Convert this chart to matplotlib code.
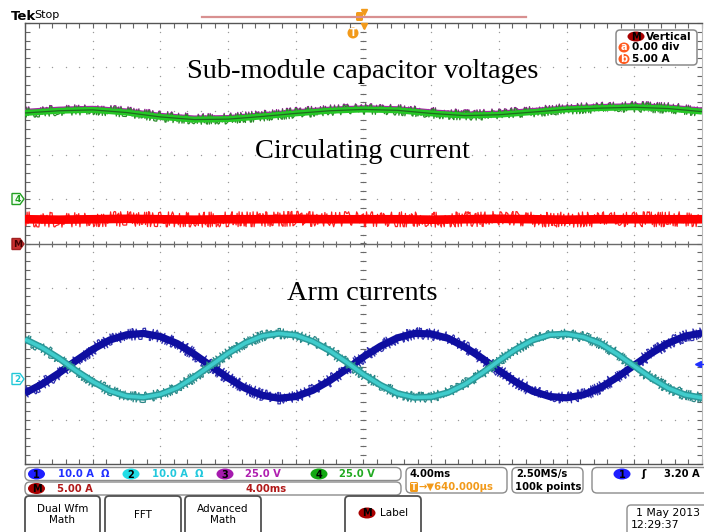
import matplotlib
matplotlib.use("Agg")
import matplotlib.pyplot as plt
from matplotlib.patches import FancyBboxPatch, Ellipse, Polygon
import numpy as np

W, H = 704, 532

# ---------------------------------------------------------------------------
# Data (vertical values in divisions, time in ms)
# 4.00 ms/div, trigger at centre of screen
# ---------------------------------------------------------------------------
t_slow = np.linspace(-20, 20, 21)          # every 0.5 div
t_fast = np.linspace(-20, 20, 41)          # every 0.25 div

# ch4 / ch3 sub-module capacitor voltages (25 V/div)
cap_green = [2.96, 3.01, 3.03, 2.97, 2.87, 2.81, 2.82, 2.88, 2.95, 3.01, 3.04,
             3.02, 2.95, 2.90, 2.92, 2.98, 3.04, 3.07, 3.09, 3.06, 2.99]
cap_purple = [3.00, 3.05, 3.07, 3.01, 2.91, 2.85, 2.86, 2.92, 2.99, 3.05, 3.08,
              3.06, 2.99, 2.94, 2.96, 3.02, 3.08, 3.11, 3.13, 3.10, 3.03]

# math channel M: circulating current (5.00 A/div)
circ = [0.55, 0.54, 0.55, 0.56, 0.55, 0.54, 0.55, 0.55, 0.56, 0.55, 0.55,
        0.55, 0.54, 0.55, 0.56, 0.55, 0.54, 0.55, 0.55, 0.55, 0.55]

# ch1 / ch2 arm currents (10.0 A/div)
arm_blue = [-3.39, -3.19, -2.94, -2.66, -2.40, -2.19, -2.07, -2.04, -2.11, -2.27,
            -2.51, -2.78, -3.05, -3.28, -3.44, -3.51, -3.47, -3.33, -3.11, -2.85,
            -2.57, -2.33, -2.14, -2.04, -2.05, -2.15, -2.35, -2.60, -2.88, -3.14,
            -3.35, -3.47, -3.50, -3.43, -3.27, -3.03, -2.76, -2.49, -2.26, -2.10,
            -2.03]
arm_cyan = [-2.17, -2.36, -2.60, -2.88, -3.13, -3.34, -3.46, -3.49, -3.42, -3.27,
            -3.03, -2.76, -2.49, -2.26, -2.10, -2.04, -2.08, -2.22, -2.43, -2.69,
            -2.97, -3.21, -3.40, -3.49, -3.48, -3.38, -3.19, -2.94, -2.66, -2.40,
            -2.19, -2.07, -2.05, -2.12, -2.27, -2.51, -2.78, -3.05, -3.28, -3.43,
            -3.50]

# ---------------------------------------------------------------------------
fig = plt.figure(figsize=(W / 100, H / 100), dpi=100)
fig.patch.set_facecolor("white")

X0, X1, Y0, Y1 = 25, 702, 23, 464
ax = fig.add_axes([X0 / W, 1 - Y1 / H, (X1 - X0) / W, (Y1 - Y0) / H])
ax.set_xlim(-20, 20)
ax.set_ylim(-5, 5)
ax.set_facecolor("white")

# graticule: edge ticks
ax.set_xticks(np.arange(-20, 20.01, 4))
ax.set_xticks(np.arange(-20, 20.01, 0.8), minor=True)
ax.set_yticks(np.arange(-5, 5.01, 1))
ax.set_yticks(np.arange(-5, 5.01, 0.2), minor=True)
ax.tick_params(which="both", direction="in", length=3.5, width=0.8, color="#666666",
               top=True, right=True, labelbottom=False, labelleft=False)
for s in ["left", "top", "bottom"]:
    ax.spines[s].set_color("#555555")
    ax.spines[s].set_linewidth(1.0)
ax.spines["right"].set_color("#bbbbbb")

# dotted grid
dot_y = np.arange(-5, 5.01, 0.2)
dot_x = np.arange(-20, 20.01, 0.8)
for gx in np.arange(-16, 16.01, 4):
    ax.plot(np.full_like(dot_y, gx), dot_y, ls="none", marker="o", ms=1.0,
            mfc="#9a9a9a", mec="none", zorder=1)
for gy in [-4, -3, -2, -1, 1, 2, 3, 4]:
    ax.plot(dot_x, np.full_like(dot_x, gy), ls="none", marker="o", ms=1.0,
            mfc="#9a9a9a", mec="none", zorder=1)

# centre cross-hair with ticks (split screen divider at 0)
ax.axhline(0, color="#6a6a6a", lw=1.0, zorder=1)
ax.plot(dot_x, np.zeros_like(dot_x), ls="none", marker="|", ms=5, mew=0.8,
        color="#6a6a6a", zorder=1)
ax.plot(np.zeros_like(dot_y), dot_y, ls="none", marker="_", ms=5, mew=0.8,
        color="#6a6a6a", zorder=1)


def trace(x, y, band, fuzz_color, lw_band, fuzz=3.0, z=3, core=None, core_lw=0.9):
    # thin sketched line under a solid band -> spiky noise at the band edges
    f, = ax.plot(x, y, color=fuzz_color, lw=0.9, zorder=z)
    f.set_sketch_params(scale=fuzz, length=0.5, randomness=1.5)
    ax.plot(x, y, color=band, lw=lw_band, solid_capstyle="butt", zorder=z + 0.1)
    if core is not None:
        ax.plot(x, y, color=core, lw=core_lw, solid_capstyle="butt", zorder=z + 0.2)


trace(t_slow, cap_purple, "#a52aa5", "#8a1a8a", 3.4, fuzz=4.2, z=3)
trace(t_slow, cap_green, "#25c825", "#2a8a2a", 4.3, fuzz=4.8, z=3.5, core="#1f6b1f")
trace(t_slow, circ, "#ff0000", "#ff2020", 6.2, fuzz=7.5, z=3)
trace(t_fast, arm_blue, "#0e0ea0", "#3030b0", 5.2, fuzz=5.8, z=3)
trace(t_fast, arm_cyan, "#2a9a9a", "#2a8686", 4.8, fuzz=5.2, z=4,
      core="#40cccc", core_lw=2.6)

# ---------------------------------------------------------------------------
# overlay in pixel coordinates
# ---------------------------------------------------------------------------
ov = fig.add_axes([0, 0, 1, 1], zorder=5)
ov.set_xlim(0, W)
ov.set_ylim(H, 0)
ov.axis("off")
ov.patch.set_visible(False)

SANS = "DejaVu Sans"
SERIF = "Liberation Serif"

# annotations
ov.text(363, 72, "Sub-module capacitor voltages", family=SERIF, fontsize=20.4,
        ha="center", va="center")
ov.text(362, 152, "Circulating current", family=SERIF, fontsize=20.4,
        ha="center", va="center")
ov.text(362, 293, "Arm currents", family=SERIF, fontsize=20.4,
        ha="center", va="center")


def badge(x, y, txt, fc, tc="black", w=17, h=11, fs=7):
    ov.add_patch(Ellipse((x, y), w, h, fc=fc, ec="none"))
    ov.text(x, y + 0.5, txt, ha="center", va="center", fontsize=fs, color=tc,
            family=SANS, fontweight="bold")


def rbox(x0, y0, x1, y1, ec="#8c8c8c", lw=1.0, r=5):
    ov.add_patch(FancyBboxPatch((x0, y0), x1 - x0, y1 - y0,
                                boxstyle=f"round,pad=0,rounding_size={r}",
                                fc="white", ec=ec, lw=lw, clip_on=False))


def label(x, y, txt, color="black", fs=7.2, ha="left", weight="bold"):
    ov.text(x, y, txt, ha=ha, va="center", fontsize=fs, color=color,
            family=SANS, fontweight=weight)


# header
ov.text(11, 16, "Tek", family=SANS, fontsize=9.5, fontweight="bold", va="center")
ov.text(34, 15, "Stop", family=SANS, fontsize=8, va="center")
ov.plot([202, 526], [16.5, 16.5], color="#d89090", lw=1.6)
ov.add_patch(FancyBboxPatch((356, 12), 7, 9, boxstyle="round,pad=0,rounding_size=1.5",
                            fc="#f29a1a", ec="none"))
ov.plot([363.5], [12], marker="v", ms=4, color="#f29a1a", ls="none")
ov.plot([363.5], [26], marker="v", ms=5, color="#f29a1a", ls="none")
ov.add_patch(Ellipse((353, 33), 11, 11, fc="#f29a1a", ec="none"))
ov.text(353, 33.5, "T", ha="center", va="center", fontsize=7, color="white",
        family=SANS, fontweight="bold")

# vertical readout box (top right)
rbox(616, 30, 697, 65, ec="#8a8a8a", lw=1.1, r=4)
badge(636, 36.5, "M", "#a80000", w=17, h=10, fs=7)
label(646, 36.5, "Vertical", fs=7.6)
ov.add_patch(Ellipse((624, 47.5), 11, 10, fc="#ff5a1e", ec="none"))
ov.text(624, 47.5, "a", ha="center", va="center", fontsize=7, color="white",
        family=SANS, fontweight="bold")
label(632, 47.5, "0.00 div", fs=7.6)
ov.add_patch(Ellipse((624, 59), 11, 10, fc="#ff5a1e", ec="none"))
ov.text(624, 59, "b", ha="center", va="center", fontsize=7, color="white",
        family=SANS, fontweight="bold")
label(632, 59, "5.00 A", fs=7.6)


# channel ground markers on the left edge
def marker_tag(y, txt, ec, fc, tc):
    ov.add_patch(Polygon([(12, y - 5.5), (20, y - 5.5), (24, y), (20, y + 5.5),
                          (12, y + 5.5)], closed=True, fc=fc, ec=ec, lw=1.0))
    ov.text(17.5, y + 0.5, txt, ha="center", va="center", fontsize=6.5, color=tc,
            family=SANS, fontweight="bold")


marker_tag(199, "4", "#22a022", "#f4fff4", "#22a022")
marker_tag(244, "M", "#a02020", "#c83030", "#400000")
marker_tag(379, "2", "#22c8d8", "white", "#22c8d8")
ov.plot([698], [364], marker="<", ms=4, color="#2030ff", ls="none")
ov.plot([698, 703], [364, 364], color="#2030ff", lw=1.0)

# status bar row 1 / row 2
rbox(25, 467.5, 401, 480.5, r=5)
rbox(25, 482, 401, 495, r=5)
badge(36.5, 474, "1", "#1e1eff")
label(58, 474, "10.0 A  Ω", color="#2030ff")
badge(131, 474, "2", "#22dde6")
label(152, 474, "10.0 A  Ω", color="#22c8dd")
badge(225, 474, "3", "#a51aae")
label(245, 474, "25.0 V", color="#b020b0")
badge(319, 474, "4", "#12a812")
label(339, 474, "25.0 V", color="#22aa22")
badge(36.5, 488.5, "M", "#a80000")
label(57, 488.5, "5.00 A", color="#b01818")
label(245, 488.5, "4.00ms", color="#b01818")

# timebase box
rbox(406, 467.5, 507, 493, r=5)
label(410, 474, "4.00ms")
ov.add_patch(FancyBboxPatch((410, 482), 8, 10, boxstyle="round,pad=0,rounding_size=1.5",
                            fc="#f29a1a", ec="none"))
ov.text(414, 487.5, "T", ha="center", va="center", fontsize=6, color="white",
        family=SANS, fontweight="bold")
label(418, 487.5, "→▼640.000µs", color="#f29a1a")

# acquisition box
rbox(512, 467.5, 583, 493, r=5)
label(516, 474, "2.50MS/s")
label(515, 487.5, "100k points")

# trigger box
rbox(592, 467.5, 710, 493, r=5)
badge(622, 474, "1", "#1e1eff")
label(641, 474, "ʃ", fs=7.5)
label(700, 474, "3.20 A", ha="right")

# soft buttons
for bx0, bx1, txt in [(25, 100, "Dual Wfm\nMath"), (105, 181, "FFT"),
                      (185, 261, "Advanced\nMath")]:
    rbox(bx0, 496, bx1, 545, ec="#505050", lw=1.3, r=4)
    ov.text((bx0 + bx1) / 2, 514.5, txt, ha="center", va="center", fontsize=7.5,
            family=SANS, linespacing=1.05)
rbox(345, 496, 421, 545, ec="#505050", lw=1.3, r=4)
badge(367, 513, "M", "#a80000")
ov.text(380, 513, "Label", ha="left", va="center", fontsize=7.5, family=SANS)

# date box
rbox(627, 505, 712, 545, ec="#8c8c8c", lw=1.0, r=4)
label(700, 513, "1 May 2013", ha="right", weight="normal", fs=7.8)
label(631, 524.5, "12:29:37", weight="normal", fs=7.8)

fig.savefig("out.png", dpi=100, facecolor="white")
